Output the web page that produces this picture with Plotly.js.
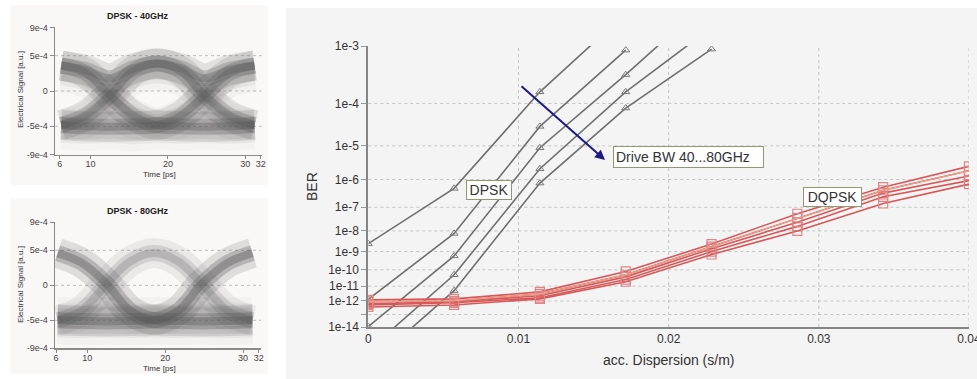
<!DOCTYPE html>
<html><head><meta charset="utf-8">
<script src="https://cdn.plot.ly/plotly-3.0.1.min.js"></script>
<style>html,body{margin:0;padding:0;background:#fff;} #chart{width:977px;height:379px;}</style>
</head><body><div id="chart"></div>
<script>
// ---------------- BER chart data ----------------
const dispersion = [0, 0.005714, 0.011429, 0.017143, 0.022857, 0.028571, 0.034286, 0.04];
const dpskBW40 = [2.5e-9, 5e-7, 1.7e-4, 2.7e-3];
const dpskBW50 = [1.3e-12, 7.7e-9, 3.1e-5, 8.7e-4];
const dpskBW60 = [1.1e-14, 5.9e-10, 8.9e-6, 3.5e-4, 4.1e-3];
const dpskBW70 = [8e-17, 5.1e-11, 2.2e-6, 1.7e-4, 1.8e-3];
const dpskBW80 = [2e-18, 5.1e-12, 7.6e-7, 8e-5, 9e-4];
const dqpskBW40 = [1.2e-12, 1.4e-12, 4.2e-12, 8e-11, 2.4e-9, 5.5e-8, 5.5e-7, 2.6e-6];
const dqpskBW50 = [8.9e-13, 1.0e-12, 3.1e-12, 5.1e-11, 1.8e-9, 3.6e-8, 4.3e-7, 1.9e-6];
const dqpskBW60 = [6.2e-13, 8.9e-13, 2.3e-12, 3.8e-11, 1.4e-9, 2.4e-8, 3.4e-7, 1.3e-6];
const dqpskBW70 = [5.2e-13, 7.4e-13, 1.7e-12, 2.6e-11, 1.0e-9, 1.6e-8, 2.5e-7, 9.2e-7];
const dqpskBW80 = [3.7e-13, 5.2e-13, 1.4e-12, 1.9e-11, 7e-10, 1.0e-8, 1.4e-7, 7e-7];
const berTicks = [1e-3, 1e-4, 1e-5, 1e-6, 1e-7, 1e-8, 1e-9, 1e-10, 1e-11, 1e-12, 1e-13, 1e-14];
const berTickText = ['1e-3','1e-4','1e-5','1e-6','1e-7','1e-8','1e-9','1e-10','1e-11','1e-12','','1e-14'];
const dispTicks = [0, 0.01, 0.02, 0.03, 0.04];
const dispTickText = ['0','0.01','0.02','0.03','0.04'];

// ---------------- Eye diagram data (values in 1e-4 a.u.) ----------------
const eyeTime = [6.2, 9.3, 12.5, 15.5, 18.6, 21.7, 24.7, 28.0, 31.2];
const eye40_HHH = [3.6, 3.0, 1.8, 3.2, 3.9, 3.2, 1.8, 3.0, 3.6];
const eye40_HHL = [3.6, 3.0, 1.8, 3.2, 3.9, 2.8, -0.6, -3.5, -4.8];
const eye40_HLH = [3.6, 2.6, -0.6, -3.5, -4.8, -3.5, -0.6, 2.6, 3.6];
const eye40_HLL = [3.6, 2.6, -0.6, -3.5, -4.8, -5.0, -5.0, -5.0, -4.8];
const eye40_LHH = [-4.8, -3.5, -0.6, 2.8, 3.9, 3.2, 1.8, 3.0, 3.6];
const eye40_LHL = [-4.8, -3.5, -0.6, 2.8, 3.9, 2.8, -0.6, -3.5, -4.8];
const eye40_LLH = [-4.8, -5.0, -5.0, -5.0, -4.8, -3.5, -0.6, 2.6, 3.6];
const eye40_LLL = [-4.8, -5.0, -5.1, -5.0, -4.9, -5.0, -5.1, -5.0, -4.8];
const eye40_LhL = [-4.8, -3.8, -1.2, 1.4, 2.2, 1.4, -1.2, -3.8, -4.8];
const eye40_hLh = [2.0, 1.2, -1.0, -3.2, -4.4, -3.2, -1.0, 1.2, 2.0];
const eye40_Lbump = [-4.8, -4.6, -3.4, -4.6, -4.8, -4.6, -3.4, -4.6, -4.8];
const eye40_Llow = [-6.2, -6.3, -6.2, -6.4, -6.2, -6.3, -6.2, -6.3, -6.2];

const eye80_HLH = [4.6, 3.2, 0.2, -3.6, -5.0, -3.6, 0.2, 3.2, 4.6];
const eye80_HLL = [4.6, 3.2, 0.2, -3.6, -5.0, -5.1, -5.1, -5.1, -5.0];
const eye80_LHL = [-5.0, -3.6, 0.2, 3.4, 4.6, 3.4, 0.2, -3.6, -5.0];
const eye80_LLH = [-5.0, -5.1, -5.1, -5.1, -5.0, -3.6, 0.2, 3.2, 4.6];
const eye80_LLL = [-5.0, -5.1, -5.2, -5.1, -5.0, -5.1, -5.2, -5.1, -5.0];
const eye80_Lbump = [-4.8, -4.4, -2.8, -4.4, -4.8, -4.4, -2.8, -4.4, -4.8];
const eye80_Llow = [-6.3, -6.4, -6.3, -6.4, -6.3, -6.4, -6.3, -6.4, -6.3];
const eye80_Lhigh = [-3.8, -3.9, -3.8, -3.9, -3.8, -3.9, -3.8, -3.9, -3.8];

const eyeTicksX = [6, 10, 20, 30, 32];
const eyeTicksY = [-9e-4, -5e-4, 0, 5e-4, 9e-4];
const eyeTickTextY = ['-9e-4', '-5e-4', '0', '5e-4', '9e-4'];
const eyeGrid = [-5e-4, 0, 5e-4];

// ---------------- helpers ----------------
const W = 977, H = 379;
const px = v => v / W;
const py = v => 1 - v / H;
function erfc(x) {
  const z = Math.abs(x), t = 1 / (1 + 0.5 * z);
  const r = t * Math.exp(-z*z - 1.26551223 + t*(1.00002368 + t*(0.37409196 + t*(0.09678418 +
    t*(-0.18628806 + t*(0.27886807 + t*(-1.13520398 + t*(1.48851587 + t*(-0.82215223 + t*0.17087277)))))))));
  return x >= 0 ? r : 2 - r;
}
function qdB(ber) { // BER -> Q factor in dB
  let lo = 0, hi = 20;
  for (let i = 0; i < 100; i++) {
    const m = (lo + hi) / 2;
    if (0.5 * erfc(m / Math.SQRT2) > ber) lo = m; else hi = m;
  }
  return 20 * Math.log10((lo + hi) / 2);
}
const FONT = 'Liberation Sans, Arial, sans-serif';

const traces = [];
// DPSK
const dpskColor = '#6f6f6f';
[dpskBW40, dpskBW50, dpskBW60, dpskBW70, dpskBW80].forEach(v => {
  traces.push({type:'scatter', mode:'lines+markers', xaxis:'x', yaxis:'y',
    x: dispersion.slice(0, v.length), y: v.map(qdB),
    line:{color:dpskColor, width:1.6},
    marker:{symbol:'triangle-up-open', size:7, color:'#7a7a7a', line:{width:1}}});
});
// DQPSK
const dq = [dqpskBW40, dqpskBW50, dqpskBW60, dqpskBW70, dqpskBW80];
dq.forEach((v, i) => {
  traces.push({type:'scatter', mode:'lines+markers', xaxis:'x', yaxis:'y',
    x: dispersion.slice(0, v.length), y: v.map(qdB),
    line:{color:'#d65858', width:1.6},
    marker:{symbol:'square-open', size:9, color:'#e08585', line:{width:1.2}}});
});
// light highlight line inside DQPSK bundle
traces.push({type:'scatter', mode:'lines', xaxis:'x', yaxis:'y',
  x: dispersion.slice(0, dqpskBW50.length), y: dqpskBW50.map(qdB),
  line:{color:'#f3a88a', width:1}});

// Eye traces
function eyePaths(paths, xa, ya) {
  const layers = [{w:30, a:0.07}, {w:16, a:0.13}, {w:8, a:0.17}];
  paths.forEach(p => {
    layers.forEach(l => {
      traces.push({type:'scatter', mode:'lines', xaxis:xa, yaxis:ya,
        x: eyeTime, y: p.vals.map(v => v * 1e-4),
        line:{color:`rgba(85,85,85,${(l.a * p.k).toFixed(3)})`, width:l.w, shape:'spline', smoothing:1}});
    });
  });
}
eyePaths([
  {vals:eye40_HHH,k:1},{vals:eye40_HHL,k:1},{vals:eye40_HLH,k:1},{vals:eye40_HLL,k:1},
  {vals:eye40_LHH,k:1},{vals:eye40_LHL,k:1},{vals:eye40_LLH,k:1},{vals:eye40_LLL,k:1.3},
  {vals:eye40_LhL,k:0.6},{vals:eye40_hLh,k:0.6},{vals:eye40_Lbump,k:0.6},{vals:eye40_Llow,k:0.5}
], 'x2', 'y2');
eyePaths([
  {vals:eye80_HLH,k:1.2},{vals:eye80_HLL,k:1.2},{vals:eye80_LHL,k:1.3},{vals:eye80_LLH,k:1.2},
  {vals:eye80_LLL,k:1.3},{vals:eye80_Lbump,k:0.6},{vals:eye80_Llow,k:0.6},{vals:eye80_Lhigh,k:0.6}
], 'x3', 'y3');

// ---------------- layout ----------------
const shapes = [
  {type:'rect', xref:'paper', yref:'paper', x0:px(286), x1:1, y0:0, y1:py(8), fillcolor:'#f4f4f4', line:{width:0}, layer:'below'},
  {type:'rect', xref:'paper', yref:'paper', x0:px(10), x1:px(268), y0:py(185), y1:py(5), fillcolor:'#faf7f7', line:{width:0}, layer:'below'},
  {type:'rect', xref:'paper', yref:'paper', x0:px(10), x1:px(268), y0:py(374), y1:py(198), fillcolor:'#faf7f7', line:{width:0}, layer:'below'}
];
const gridLine = {color:'#c4c4c4', width:1, dash:'dot'};
berTicks.slice(1, -1).forEach(b => shapes.push({type:'line', xref:'x domain', yref:'y', x0:0, x1:1, y0:qdB(b), y1:qdB(b), line:gridLine, layer:'below'}));
dispTicks.slice(1).forEach(d => shapes.push({type:'line', xref:'x', yref:'y domain', x0:d, x1:d, y0:0, y1:1, line:gridLine, layer:'below'}));
['2','3'].forEach(n => eyeGrid.forEach(g => shapes.push({type:'line', xref:'x'+n+' domain', yref:'y'+n, x0:0, x1:1, y0:g, y1:g, line:{color:'#bdbdbd', width:1, dash:'dot'}, layer:'below'})));

const ann = (text, x, y, size, extra) => Object.assign({text, xref:'paper', yref:'paper', x:px(x), y:py(y), showarrow:false,
  xanchor:'center', yanchor:'middle', font:{family:FONT, size, color:'#333'}}, extra || {});
const boxStyle = {bgcolor:'#ffffff', bordercolor:'#8d9b72', borderwidth:1, borderpad:1};
const annotations = [
  ann('BER', 312, 187, 14, {textangle:-90}),
  ann('acc. Dispersion (s/m)', 668.5, 360, 14),
  ann('DPSK', 489, 190, 14, Object.assign({}, boxStyle, {width:42})),
  ann('Drive BW 40...80GHz', 688.5, 156.5, 14, Object.assign({}, boxStyle, {width:145, align:'left', borderpad:2})),
  ann('DQPSK', 832.5, 196.5, 14, Object.assign({}, boxStyle, {width:55})),
  {text:'', xref:'paper', yref:'paper', x:px(605), y:py(160), ax:px(520), ay:py(85), axref:'paper', ayref:'paper',
   showarrow:true, arrowhead:2, arrowsize:1, arrowwidth:2, arrowcolor:'#1a1a8a'},
  ann('<b>DPSK - 40GHz</b>', 138, 16, 9, {font:{family:FONT, size:9, color:'#222'}}),
  ann('Electrical Signal [a.u.]', 20, 90, 8, {textangle:-90}),
  ann('Time [ps]', 159, 175, 8),
  ann('<b>DPSK - 80GHz</b>', 138, 211, 9, {font:{family:FONT, size:9, color:'#222'}}),
  ann('Electrical Signal [a.u.]', 20, 285, 8, {textangle:-90}),
  ann('Time [ps]', 159, 368, 8)
];

const eyeX = (d0, d1, r) => ({domain:[px(d0), px(d1)], range:r, tickvals:eyeTicksX, ticktext:eyeTicksX.map(String),
  showline:true, linecolor:'#8a8a8a', linewidth:1.5, ticks:'outside', ticklen:3, tickcolor:'#8a8a8a', ticklabelstandoff:-3,
  tickfont:{family:FONT, size:9, color:'#444'}, showgrid:false, zeroline:false, fixedrange:true});
const eyeY = (top, bottom, anchor) => ({domain:[py(bottom), py(top)], range:[-9e-4, 9e-4], tickvals:eyeTicksY, ticktext:eyeTickTextY,
  showline:true, linecolor:'#8a8a8a', linewidth:1.5, ticks:'outside', ticklen:4, tickcolor:'#8a8a8a', anchor,
  tickfont:{family:FONT, size:9, color:'#444'}, showgrid:false, zeroline:false, fixedrange:true});

const layout = {
  width:W, height:H, margin:{l:0, r:0, t:0, b:0}, paper_bgcolor:'#ffffff', plot_bgcolor:'rgba(0,0,0,0)',
  showlegend:false, hovermode:false, font:{family:FONT},
  xaxis:{domain:[px(368.3), px(969)], range:[0, 0.040001], tickvals:dispTicks, ticktext:dispTickText, anchor:'y',
    showline:true, linecolor:'#858585', linewidth:2, ticks:'', ticklabeloverflow:'allow', tickfont:{family:FONT, size:12, color:'#333'},
    showgrid:false, zeroline:false, fixedrange:true},
  yaxis:{domain:[py(327), py(46)], range:[qdB(1e-14), qdB(1e-3)], tickvals:berTicks.map(qdB), ticktext:berTickText, anchor:'x',
    showline:true, linecolor:'#858585', linewidth:2, ticks:'outside', ticklen:5, tickcolor:'#999',
    tickfont:{family:FONT, size:12, color:'#333'}, showgrid:false, zeroline:false, fixedrange:true},
  xaxis2: Object.assign(eyeX(55, 261.5, [5.4, 32.1]), {anchor:'y2'}),
  yaxis2: eyeY(27.4, 154.6, 'x2'),
  xaxis3: Object.assign(eyeX(55, 261, [5.86, 32.3]), {anchor:'y3'}),
  yaxis3: eyeY(222.3, 348.3, 'x3'),
  shapes, annotations
};
Plotly.newPlot('chart', traces, layout, {staticPlot:true, displayModeBar:false});
</script></body></html>
